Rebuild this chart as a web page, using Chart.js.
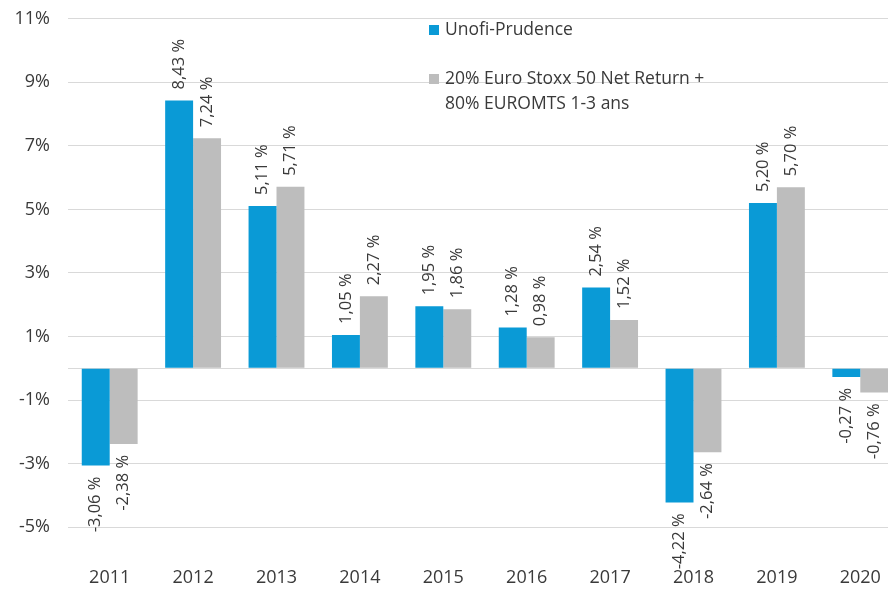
<!DOCTYPE html>
<html>
<head>
<meta charset="utf-8">
<script src="https://cdn.jsdelivr.net/npm/chart.js@4"></script>
<style>
  html, body { margin:0; padding:0; background:#ffffff; overflow:hidden; }
  #wrap { position:relative; width:902px; height:589px; }
</style>
</head>
<body>
<div id="wrap"><canvas id="perfChart"></canvas></div>
<script>
// ---------- Data ----------

const years = ["2011","2012","2013","2014","2015","2016","2017","2018","2019","2020"];

const unofiPrudence = [-3.06, 8.43, 5.11, 1.05, 1.95, 1.28, 2.54, -4.22, 5.20, -0.27];

const benchmark = [-2.38, 7.24, 5.71, 2.27, 1.86, 0.98, 1.52, -2.64, 5.70, -0.76];

const yTicks = [-5, -3, -1, 0, 1, 3, 5, 7, 9, 11];

const seriesNames = ["Unofi-Prudence", ["20% Euro Stoxx 50 Net Return +", "80% EUROMTS 1-3 ans"]];

const textColor = "#3a3a3a";
const fontFamily = "'Open Sans', sans-serif";

function frPct(v){
    return v.toFixed(2).replace(".", ",") + " %";
}

// ---------- Rotated value labels ----------

const valueLabels = {
    id:"valueLabels",
    afterDatasetsDraw(chart){
        const ctx = chart.ctx;
        const lowest = chart.chartArea.bottom + 11;
        ctx.save();
        ctx.font = "16.5px " + fontFamily;
        ctx.fillStyle = textColor;
        chart.data.datasets.forEach((ds, i)=>{
            const meta = chart.getDatasetMeta(i);
            meta.data.forEach((bar, j)=>{
                const v = ds.data[j];
                const txt = frPct(v);
                const gap = 11;
                let y;
                if(v >= 0){
                    y = bar.y - gap;
                } else {
                    // keep long negative labels above the year labels
                    const w = ctx.measureText(txt).width;
                    y = Math.min(bar.y + gap + w, lowest);
                }
                ctx.save();
                ctx.translate(bar.x, y);
                ctx.rotate(-Math.PI / 2);
                ctx.textAlign = "left";
                ctx.textBaseline = "middle";
                ctx.fillText(txt, 0, 0);
                ctx.restore();
            });
        });
        ctx.restore();
    }
};

// ---------- Legend drawn inside the plot ----------

const insideLegend = {
    id:"insideLegend",
    afterDraw(chart){
        const ctx = chart.ctx;
        const ds = chart.data.datasets;
        ctx.save();
        ctx.font = "17.5px " + fontFamily;
        ctx.textBaseline = "middle";
        ctx.textAlign = "left";
        const rows = [ 30, 79 ];
        ds.forEach((d, i)=>{
            const y = rows[i];
            ctx.fillStyle = d.backgroundColor;
            ctx.fillRect(429, y - 5, 10, 10);
            ctx.fillStyle = textColor;
            const lines = [].concat(seriesNames[i]);
            lines.forEach((t, k)=> ctx.fillText(t, 445, y + k * 25));
        });
        ctx.restore();
    }
};

// ---------- Chart ----------

const perfChart = new Chart(document.getElementById("perfChart"), {
    type:"bar",
    data:{
        labels:years,
        datasets:[
            { label:"Unofi-Prudence", data:unofiPrudence, backgroundColor:"#0A9AD6", borderWidth:0 },
            { label:"Benchmark", data:benchmark, backgroundColor:"#BDBDBD", borderWidth:0 }
        ]
    },
    options:{
        responsive:true,
        maintainAspectRatio:false,
        animation:false,
        layout:{ padding:{ top:18.7, left:0, right:0, bottom:0 } },
        datasets:{ bar:{ categoryPercentage:0.67, barPercentage:1.0 } },
        plugins:{
            legend:{ display:false },
            tooltip:{ enabled:false }
        },
        scales:{
            x:{
                grid:{ display:false, drawTicks:false },
                border:{ display:false },
                ticks:{ color:textColor, font:{ family:fontFamily, size:18 }, padding:8, maxRotation:0 },
                afterFit(scale){
                    scale.height = 30;
                    scale.paddingLeft = 0;
                    scale.paddingRight = 0;
                }
            },
            y:{
                min:-6,
                max:11,
                afterBuildTicks(scale){ scale.ticks = yTicks.map(v=>({ value:v })); },
                afterFit(scale){
                    scale.width = 68;
                    scale.paddingTop = 0;
                    scale.paddingBottom = 0;
                },
                grid:{ color:"#D9D9D9", drawTicks:false, lineWidth:1 },
                border:{ display:false },
                ticks:{
                    color:textColor,
                    font:{ family:fontFamily, size:18 },
                    padding:18,
                    callback:(v)=> v === 0 ? "" : v + "%"
                }
            }
        }
    },
    plugins:[valueLabels, insideLegend]
});
</script>
</body>
</html>
